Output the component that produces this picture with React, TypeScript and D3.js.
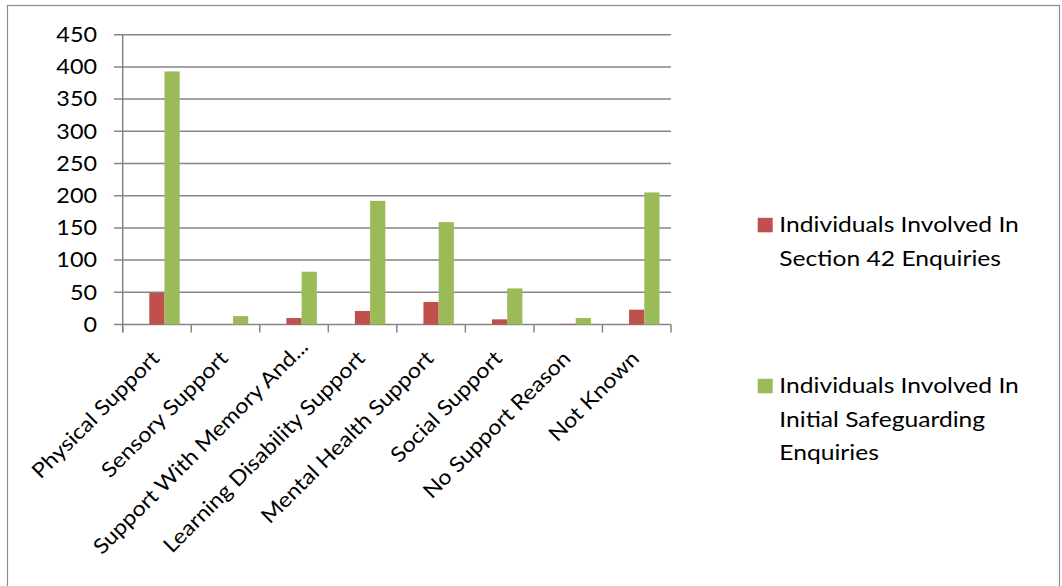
import React from "react";
import * as d3 from "d3";

const categories = [
  "Physical Support",
  "Sensory Support",
  "Support With Memory And...",
  "Learning Disability Support",
  "Mental Health Support",
  "Social Support",
  "No Support Reason",
  "Not Known",
];
const section42 = [49, 0, 10, 21, 35, 8, 1, 23];
const initialEnq = [393, 13, 82, 192, 159, 56, 10, 205];
const yTicks = [0, 50, 100, 150, 200, 250, 300, 350, 400, 450];
const seriesNames = [
  ["Individuals Involved In", "Section 42 Enquiries"],
  ["Individuals Involved In", "Initial Safeguarding", "Enquiries"],
];
const colors = ["#C0504D", "#9BBB59"];

const W = 1062;
const H = 586;
const FONT = "Lato, 'Open Sans', sans-serif";

export default function App() {
  const left = 122.7;
  const right = 671;
  const top = 34.7;
  const bottom = 324.5;
  const y = d3.scaleLinear().domain([0, 450]).range([bottom, top]);
  const x = d3.scaleBand<string>().domain(categories).range([left, right]).padding(0);
  const bw = x.bandwidth();
  const barW = bw / 4.5;
  const shift = bw * 0.11;
  const series = [section42, initialEnq];
  const grid = "#858585";

  return (
    <svg
      width={W}
      height={H}
      style={{ position: "absolute", left: 0, top: 0, background: "#fff" }}
      fontFamily={FONT}
    >
      <rect x={7.5} y={5.5} width={1052} height={620} fill="#fff" stroke="#8c8c8c" strokeWidth={1.2} />
      {yTicks.map((t) => (
        <g key={t}>
          <line x1={114} x2={right} y1={y(t)} y2={y(t)} stroke={grid} strokeWidth={1.5} />
          <g transform={`translate(97,${y(t)}) scale(1.14,1)`}>
            <text textAnchor="end" dy="0.36em" fontSize={20.5} fill="#000">
              {t}
            </text>
          </g>
        </g>
      ))}
      <line x1={left} x2={left} y1={top} y2={bottom + 8} stroke={grid} strokeWidth={1.5} />
      {[...categories.map((c) => x(c) as number), right].map((px, i) => (
        <line key={i} x1={px} x2={px} y1={bottom} y2={bottom + 8} stroke={grid} strokeWidth={1.5} />
      ))}
      {categories.map((c, i) => {
        const gx = (x(c) as number) + (bw - 2 * barW) / 2 + shift;
        return (
          <g key={c}>
            {series.map((s, j) => (
              <rect
                key={j}
                x={gx + j * barW}
                y={y(s[i])}
                width={barW}
                height={bottom - y(s[i])}
                fill={colors[j]}
              />
            ))}
          </g>
        );
      })}
      {categories.map((c) => {
        const cx = (x(c) as number) + bw / 2 - 7;
        const trunc = c.endsWith("...");
        const main = trunc ? c.slice(0, -3) : c;
        return (
          <g key={c} transform={`translate(${cx},349) rotate(-45) scale(1.11,1)`}>
            <text textAnchor="end" dy="0.72em" fontSize={21} fill="#000">
              {main}
            </text>
            {trunc && (
              <text textAnchor="start" dy="0.72em" fontSize={21} fill="#000">
                ...
              </text>
            )}
          </g>
        );
      })}
      {seriesNames.map((lines, j) => {
        const y0 = j === 0 ? 232.3 : 393.3;
        return (
          <g key={j}>
            <rect x={757.7} y={y0 - 14.5} width={15} height={14.5} fill={colors[j]} />
            {lines.map((ln, k) => (
              <g key={k} transform={`translate(779.3,${y0 + k * 33.2}) scale(1.12,1)`}>
                <text fontSize={22} fill="#000">
                  {ln}
                </text>
              </g>
            ))}
          </g>
        );
      })}
    </svg>
  );
}
